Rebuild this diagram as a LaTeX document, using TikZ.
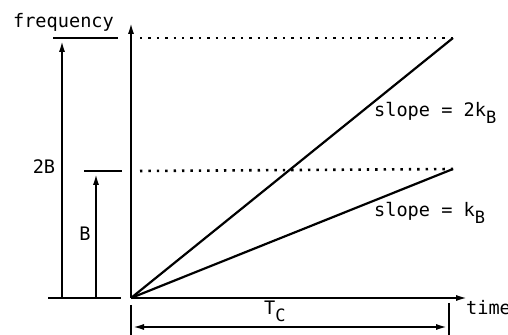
\documentclass[tikz,border=0pt]{standalone}
\usepackage{fontspec}
\setmonofont{DejaVu Sans Mono}
\usetikzlibrary{arrows.meta}
\newcommand\lowsub[1]{\raisebox{-0.6ex}{\fontsize{8.5}{8.5}\selectfont #1}}
\begin{document}
\begin{tikzpicture}[x=0.5pt,y=-0.5pt,line width=1.1pt,
  every node/.style={font=\ttfamily\fontsize{9.3}{10}\selectfont,inner sep=0pt},
  tip/.style={-{Latex[length=6pt,width=3pt]}},
  dimline/.style={{Latex[length=6pt,width=3pt]}-{Latex[length=6pt,width=3pt]}},
  guide/.style={dash pattern=on 1.2pt off 3pt,line width=1.3pt}]
  \useasboundingbox (0,0) rectangle (508,335);

  % axes
  \coordinate (O) at (131,298);
  \coordinate (ytop) at (131,22);
  \coordinate (xend) at (468,298);
  \draw[tip] (O) -- (ytop);
  \draw[tip] (O) -- (xend);
  \node[anchor=base west] (freq) at (12,28) {frequency};
  \node[anchor=base west] (time) at (465,315) {time};

  % reference levels on the left
  \coordinate (base-l) at (48,298);
  \coordinate (base-r) at (121,298);
  \coordinate (top-l) at (53,38);
  \coordinate (top-r) at (118,38);
  \coordinate (mid-l) at (84,171);
  \coordinate (mid-r) at (122,171);
  \draw (base-l) -- (base-r);
  \draw (top-l) -- (top-r);
  \draw (mid-l) -- (mid-r);

  \coordinate (twoB-foot) at (62,298);
  \coordinate (twoB-head) at (62,40);
  \coordinate (B-foot) at (96,298);
  \coordinate (B-head) at (96,173);
  \draw[tip] (twoB-foot) -- (twoB-head);
  \draw[tip] (B-foot) -- (B-head);
  \node[anchor=base] (lab2B) at (44,174) {2B};
  \node[anchor=base] (labB) at (85,241) {B};

  % chirps
  \coordinate (hi) at (453,38);
  \coordinate (lo) at (453,169);
  \draw (O) -- (hi);
  \draw (O) -- (lo);
  \coordinate (hi-start) at (140,38);
  \coordinate (lo-start) at (140,171);
  \draw[guide] (hi-start) -- (hi);
  \draw[guide] (lo-start) -- (lo);
  \node[anchor=base west] (s2) at (373,117) {slope = 2k\lowsub{B}};
  \node[anchor=base west] (s1) at (373,217) {slope = k\lowsub{B}};

  % chirp duration
  \coordinate (t0-a) at (131,305);
  \coordinate (t0-b) at (131,335);
  \coordinate (t1-a) at (449,303);
  \coordinate (t1-b) at (449,335);
  \draw (t0-a) -- (t0-b);
  \draw (t1-a) -- (t1-b);
  \coordinate (d0) at (132,327);
  \coordinate (d1) at (448,327);
  \draw[dimline] (d0) -- (d1);
  \node[anchor=base west] (Tc) at (263,315) {T\lowsub{C}};
\end{tikzpicture}
\end{document}
